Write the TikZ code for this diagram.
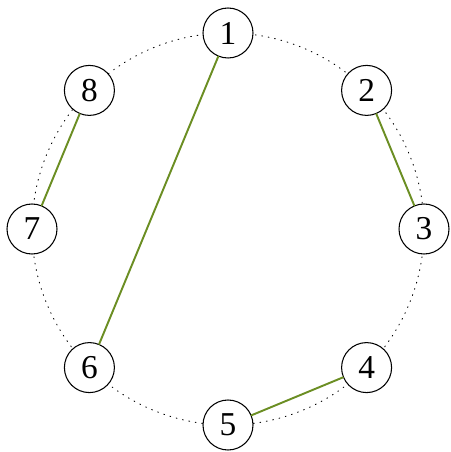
\documentclass[tikz,border=0pt]{standalone}
\usepackage{fontspec}
\setmainfont{Liberation Serif}

\begin{document}
\begin{tikzpicture}[line join=round, line cap=round,
	vertex/.style={circle, draw, fill=white, line width=0.6pt, minimum size=1cm, inner sep=0pt, font=\fontsize{19}{21}\selectfont},
	chord/.style={line width=1.1pt, color=olivegreen}]
	\definecolor{olivegreen}{RGB}{107,142,35}
	\def\r{3.92} % bán kính
	\useasboundingbox (-4.56,-4.46) rectangle (4.44,4.58);

	\draw[line width=0.5pt, dash pattern=on 0.5pt off 3.2pt] (0,0) circle (\r);
	\foreach \k in {1,...,8}
		\node[vertex] (n\k) at ({90-45*(\k-1)}:\r) {\k};
	\draw[chord] (n1)--(n6);
	\draw[chord] (n8)--(n7);
	\draw[chord] (n2)--(n3);
	\draw[chord] (n4)--(n5);
\end{tikzpicture}
\end{document}
